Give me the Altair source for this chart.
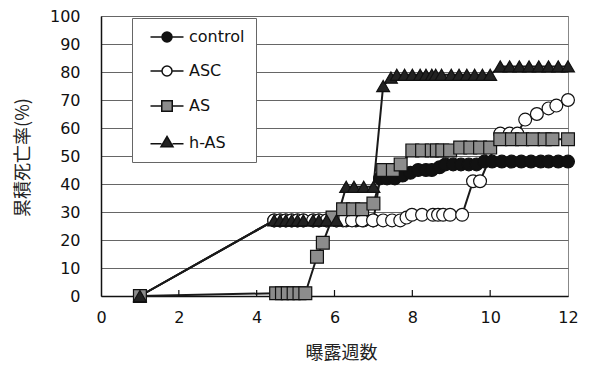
import altair as alt
import pandas as pd

series_names = ["control", "ASC", "AS", "h-AS"]

control_x = [1, 4.45, 4.6, 4.75, 4.9, 5.05, 5.2, 5.45, 5.6, 5.8, 6.05, 6.3, 6.55, 6.75, 7.0,
             7.17, 7.35, 7.55, 7.75, 7.95, 8.15, 8.35, 8.5, 8.7, 8.85, 9.05, 9.25, 9.45, 9.65, 9.85,
             10.05, 10.3, 10.55, 10.8, 11.05, 11.3, 11.5, 11.75, 12.0]
control_y = [0, 27, 27, 27, 27, 27, 27, 27, 27, 27, 27, 27, 27, 27, 27,
             42, 42, 42, 43, 44, 45, 45, 45, 46, 47, 47, 47, 47, 47, 48,
             48, 48, 48, 48, 48, 48, 48, 48, 48]

asc_x = [1, 4.45, 4.6, 4.75, 4.9, 5.05, 5.2, 5.45, 5.6, 5.8, 6.05, 6.22, 6.45, 6.71, 6.99, 7.25, 7.48,
         7.69, 7.85, 7.99, 8.25, 8.53, 8.66, 8.79, 8.97, 9.28,
         9.56, 9.74, 10.26, 10.5, 10.7, 10.9, 11.2, 11.5, 11.7, 12.0]
asc_y = [0, 27, 27, 27, 27, 27, 27, 27, 27, 27, 27, 27, 27, 27, 27, 27, 27,
         27, 28, 29, 29, 29, 29, 29, 29, 29,
         41, 41, 58, 58, 58, 63, 65, 67, 68, 70]

as_x = [1, 4.5, 4.65, 4.8, 4.95, 5.1, 5.25, 5.55, 5.7, 5.95, 6.22, 6.48, 6.71, 7.0,
        7.25, 7.5, 7.7, 8.0, 8.25, 8.5, 8.63, 8.77, 8.97, 9.23, 9.49, 9.74, 10.0,
        10.26, 10.56, 10.82, 11.1, 11.4, 11.6, 12.0]
as_y = [0, 1, 1, 1, 1, 1, 1, 14, 19, 28, 31, 31, 31, 33,
        45, 45, 47, 52, 52, 52, 52, 52, 52, 53, 53, 53, 53,
        56, 56, 56, 56, 56, 56, 56]

has_x = [1, 4.45, 4.6, 4.75, 4.9, 5.05, 5.2, 5.45, 5.6, 5.8, 6.05, 6.3, 6.5, 6.75, 7.0,
         7.25, 7.45, 7.6, 7.8, 8.0, 8.2, 8.35, 8.5, 8.6, 8.75, 9.0, 9.2, 9.4, 9.6, 9.8, 10.0,
         10.26, 10.5, 10.75, 11.0, 11.25, 11.5, 11.75, 12.0]
has_y = [0, 27, 27, 27, 27, 27, 27, 27, 27, 27, 27, 39, 39, 39, 39,
         75, 78, 79, 79, 79, 79, 79, 79, 79, 79, 79, 79, 79, 79, 79, 79,
         82, 82, 82, 82, 82, 82, 82, 82]

x_ticks = [0, 2, 4, 6, 8, 10, 12]
inner_ticks = [2, 4, 6, 8, 10]
y_ticks = [0, 10, 20, 30, 40, 50, 60, 70, 80, 90, 100]

marker_shapes = ["circle", "circle", "square", "triangle-up"]
marker_fills = ["#111111", "#ffffff", "#8c8c8c", "#222222"]
legend_paths = [
    "M -3.3 0 L -1 0 M 1 0 L 3.3 0 M -1 0 A 1 1 0 1 0 1 0 A 1 1 0 1 0 -1 0 Z",
    "M -3.3 0 L -1 0 M 1 0 L 3.3 0 M -1 0 A 1 1 0 1 0 1 0 A 1 1 0 1 0 -1 0 Z",
    "M -3.3 0 L -1.05 0 M 1.05 0 L 3.3 0 M -1.05 -1.05 L 1.05 -1.05 L 1.05 1.05 L -1.05 1.05 Z",
    "M -3.3 0.15 L -1.1 0.15 M 1.1 0.15 L 3.3 0.15 M 0 -1.3 L 1.2 0.75 L -1.2 0.75 Z",
]

rows = []
for name, xs, ys in zip(series_names,
                        [control_x, asc_x, as_x, has_x],
                        [control_y, asc_y, as_y, has_y]):
    for i, (a, b) in enumerate(zip(xs, ys)):
        rows.append({"series": name, "week": a, "rate": b, "idx": i})
df = pd.DataFrame(rows)
tick_df = pd.DataFrame({"week": inner_ticks})

x_scale = alt.Scale(domain=[0, 12], nice=False, zero=False)
y_scale = alt.Scale(domain=[0, 100], nice=False)

x_axis = alt.Axis(values=x_ticks, title="曝露週数", grid=False, tickSize=0, labelPadding=13,
                  labelFontSize=16, labelFont="DejaVu Sans", labelColor="#111",
                  labelOverlap=False, labelFlush=False,
                  domainColor="#111", domainWidth=1.5,
                  titleFont="Noto Sans CJK JP", titleFontSize=18, titleFontWeight="normal",
                  titleColor="#222", titleX=240, titleY=57, titleAlign="center",
                  titleBaseline="middle")
y_axis = alt.Axis(values=y_ticks, title="累積死亡率(%)", grid=True, gridColor="#666666",
                  gridWidth=1, tickSize=0, labelPadding=21,
                  labelFontSize=16, labelFont="DejaVu Sans", labelColor="#111",
                  labelOverlap=False, labelFlush=False,
                  domainColor="#111", domainWidth=1.5,
                  titleFont="Noto Sans CJK JP", titleFontSize=18, titleFontWeight="normal",
                  titleColor="#222", titleX=-78, titleY=141, titleAngle=270,
                  titleAlign="center", titleBaseline="middle")

x_enc = alt.X("week:Q", scale=x_scale, axis=x_axis)
y_enc = alt.Y("rate:Q", scale=y_scale, axis=y_axis)

lines = alt.Chart(df).mark_line(color="#1a1a1a", strokeWidth=2).encode(
    x=x_enc, y=y_enc, detail="series:N", order="idx:Q",
)

ticks = alt.Chart(tick_df).mark_rule(color="#111", strokeWidth=1.2).encode(
    x=x_enc, y=alt.value(280), y2=alt.value(274)
)

points = alt.Chart(df).mark_point(filled=True, size=165, stroke="#111", strokeWidth=1.2,
                                  opacity=1).encode(
    x=x_enc,
    y=y_enc,
    shape=alt.Shape("series:N", scale=alt.Scale(domain=series_names, range=marker_shapes),
                    legend=None),
    fill=alt.Fill("series:N", scale=alt.Scale(domain=series_names, range=marker_fills),
                  legend=None),
)

leg = alt.Legend(title=None, orient="none", legendX=31, legendY=2, padding=11,
                 strokeColor="#666", fillColor="white", labelFont="DejaVu Sans",
                 labelFontSize=16, labelColor="#111", rowPadding=18, symbolOffset=16,
                 labelOffset=14, labelBaseline="middle",
                 labelExpr="datum.label + '  '")

legend_layer = alt.Chart(df).transform_filter("false").mark_point(
    filled=True, size=121, stroke="#111", strokeWidth=1.5, opacity=1
).encode(
    shape=alt.Shape("series:N", scale=alt.Scale(domain=series_names, range=legend_paths),
                    legend=leg),
    fill=alt.Fill("series:N", scale=alt.Scale(domain=series_names, range=marker_fills),
                  legend=leg),
)

chart = alt.layer(lines, ticks, points, legend_layer).resolve_scale(
    shape="independent", fill="independent"
).properties(
    width=467, height=280,
    padding={"left": 93, "top": 8, "right": 12, "bottom": 68},
    autosize=alt.AutoSizeParams(type="none"),
).configure_view(stroke="#888", strokeWidth=1)

chart.save("out.html", embed_options={"renderer": "svg", "actions": False})
